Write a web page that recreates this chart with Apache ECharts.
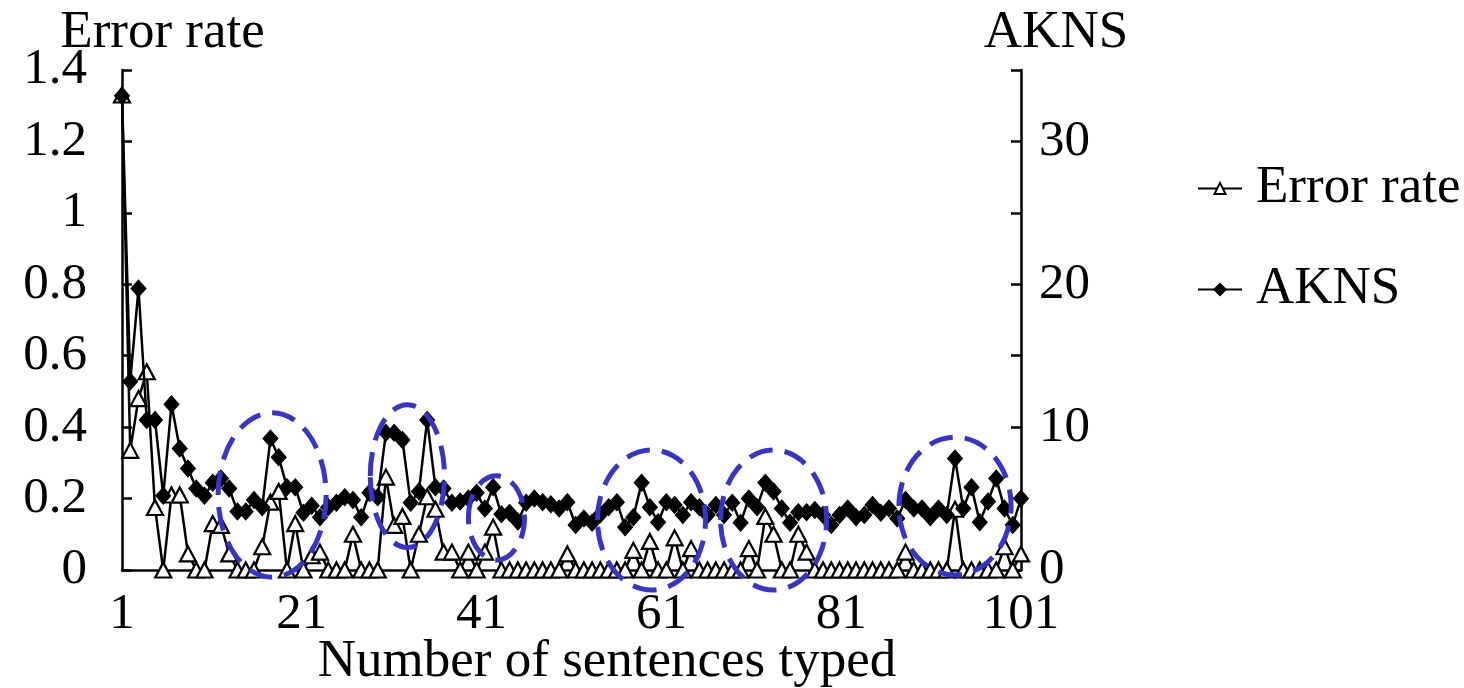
<!DOCTYPE html>
<html>
<head>
<meta charset="utf-8">
<script src="https://cdn.jsdelivr.net/npm/echarts@6/dist/echarts.min.js"></script>
<style>
  html, body { margin: 0; padding: 0; background: #fff; }
  #chart { width: 1464px; height: 688px; }
</style>
</head>
<body>
<div id="chart"></div>
<script>
// sentence index (one point per typed sentence)
const sentences = Array.from({ length: 110 }, (_, i) => i + 1)
const xTickLabels = [1, 21, 41, 61, 81, 101]

const errorRate = [
  1.33, 0.335, 0.48, 0.555, 0.175, 0, 0.21, 0.21, 0.045, 0,
  0, 0.13, 0.125, 0.045, 0, 0, 0, 0.065, 0.19, 0.22,
  0, 0.13, 0, 0.04, 0.05, 0, 0, 0, 0.1, 0,
  0, 0, 0.26, 0.125, 0.15, 0, 0.1, 0.205, 0.17, 0.05,
  0.05, 0, 0.05, 0, 0.05, 0.12, 0, 0, 0, 0,
  0, 0, 0, 0, 0.045, 0, 0, 0, 0, 0,
  0, 0, 0.055, 0, 0.08, 0, 0, 0.09, 0, 0.06,
  0, 0, 0, 0, 0, 0, 0.06, 0, 0.15, 0.1,
  0, 0, 0.1, 0.05, 0, 0, 0, 0, 0, 0,
  0, 0, 0, 0, 0, 0.05, 0, 0, 0, 0,
  0, 0.17, 0, 0, 0, 0, 0, 0.065, 0, 0.045
]

const akns = [
  33.2, 13.2, 19.7, 10.5, 10.5, 5.2, 11.6, 8.5, 7.1, 5.7,
  5.2, 6.1, 6.4, 5.7, 4.1, 4.1, 4.9, 4.4, 9.2, 7.9,
  5.8, 5.8, 4.0, 4.5, 3.7, 4.4, 4.7, 5.1, 4.9, 3.7,
  5.4, 5.1, 9.6, 9.6, 9.1, 4.7, 5.5, 10.5, 5.8, 5.7,
  4.7, 4.8, 5.0, 5.4, 4.3, 5.8, 3.9, 4.0, 3.4, 4.7,
  5.0, 4.75, 4.6, 4.3, 4.75, 3.15, 3.6, 3.3, 3.9, 4.4,
  4.75, 3.0, 3.7, 6.1, 4.4, 3.35, 4.75, 4.55, 3.85, 4.75,
  4.4, 3.85, 4.55, 3.85, 4.7, 3.3, 5.0, 4.4, 6.1, 5.5,
  4.3, 3.3, 4.05, 4.05, 4.2, 3.85, 3.15, 3.85, 4.3, 3.7,
  3.85, 4.55, 4.0, 4.3, 3.6, 4.9, 4.3, 4.3, 3.7, 4.3,
  3.85, 7.8, 4.3, 5.8, 3.35, 4.8, 6.4, 4.3, 3.15, 5.0
]

// dashed rings drawn around the spikes (sentence, error rate, half width, half height)
const highlights = [
  [19.2, 0.21, 6.55, 0.23],
  [35.6, 0.263, 4.5, 0.2],
  [46.4, 0.146, 3.4, 0.118],
  [65.2, 0.14, 6.55, 0.196],
  [80.0, 0.14, 6.43, 0.196],
  [102.0, 0.179, 6.8, 0.193]
]

const font = "Liberation Serif"
const black = "#000"
const tickSize = 51
const nameSize = 53

const chart = echarts.init(document.getElementById("chart"))

const option = {
  animation: false,
  textStyle: { fontFamily: font, color: black },
  grid: { left: 122, right: 443, top: 70, bottom: 118, outerBoundsMode: "none", containLabel: false },
  legend: {
    orient: "vertical",
    left: 1192,
    top: 157,
    itemWidth: 44,
    itemHeight: 14,
    itemGap: 48,
    textStyle: { fontFamily: font, fontSize: nameSize, color: black, padding: [0, 0, 0, 9] },
    data: ["Error rate", "AKNS"]
  },
  xAxis: [
    {
      type: "value",
      min: 1,
      max: sentences[sentences.length - 1],
      axisLine: { show: true, lineStyle: { color: black, width: 2.5 } },
      axisTick: { show: false },
      axisLabel: { show: false },
      splitLine: { show: false },
      name: "Number of sentences typed",
      nameLocation: "middle",
      nameGap: 66,
      nameMoveOverlap: false,
      nameTextStyle: { fontFamily: font, fontSize: nameSize, color: black, padding: [0, 0, 0, 71] }
    },
    {
      type: "value",
      position: "bottom",
      min: xTickLabels[0],
      max: xTickLabels[xTickLabels.length - 1],
      interval: 20,
      axisLine: { show: false },
      axisTick: { show: false },
      splitLine: { show: false },
      axisLabel: { fontFamily: font, fontSize: tickSize, color: black, margin: 19 }
    }
  ],
  yAxis: [
    {
      type: "value",
      min: 0,
      max: 1.4,
      interval: 0.2,
      name: "Error rate",
      nameLocation: "end",
      nameGap: 10,
      nameMoveOverlap: false,
      nameTextStyle: { fontFamily: font, fontSize: nameSize, color: black, padding: [0, 0, 0, 81] },
      axisLine: { show: true, lineStyle: { color: black, width: 2.5 } },
      axisTick: { show: true, inside: true, length: 10, lineStyle: { color: black, width: 2.5 } },
      axisLabel: { fontFamily: font, fontSize: tickSize, color: black, margin: 35 },
      splitLine: { show: false }
    },
    {
      type: "value",
      position: "right",
      min: 0,
      max: 35,
      interval: 5,
      name: "AKNS",
      nameLocation: "end",
      nameGap: 10,
      nameMoveOverlap: false,
      nameTextStyle: { fontFamily: font, fontSize: nameSize, color: black, padding: [0, 0, 0, 70] },
      axisLine: { show: true, lineStyle: { color: black, width: 2.5 } },
      axisTick: { show: true, inside: true, length: 10, lineStyle: { color: black, width: 2.5 } },
      axisLabel: {
        fontFamily: font, fontSize: tickSize, color: black, margin: 18,
        formatter: v => (v % 10 === 0 ? String(v) : "")
      },
      splitLine: { show: false }
    }
  ],
  series: [
    {
      name: "Error rate",
      type: "line",
      xAxisIndex: 0,
      yAxisIndex: 0,
      data: errorRate.map((v, i) => [sentences[i], v]),
      symbol: "triangle",
      symbolSize: [16, 15],
      showAllSymbol: true,
      lineStyle: { color: black, width: 2.5 },
      itemStyle: { color: "#fff", borderColor: black, borderWidth: 2.2 },
      z: 2
    },
    {
      name: "AKNS",
      type: "line",
      xAxisIndex: 0,
      yAxisIndex: 1,
      data: akns.map((v, i) => [sentences[i], v]),
      symbol: "diamond",
      symbolSize: [15, 17],
      showAllSymbol: true,
      lineStyle: { color: black, width: 2.5 },
      itemStyle: { color: black, borderColor: black, borderWidth: 1 },
      z: 3
    }
  ]
}

chart.setOption(option)

// rings placed through the chart's own scales
const rings = highlights.map(h => {
  const c = chart.convertToPixel({ seriesIndex: 0 }, [h[0], h[1]])
  const e = chart.convertToPixel({ seriesIndex: 0 }, [h[0] + h[2], h[1] + h[3]])
  return {
    type: "ellipse",
    silent: true,
    z: 100,
    shape: { cx: c[0], cy: c[1], rx: e[0] - c[0], ry: c[1] - e[1] },
    style: { fill: null, stroke: "#3535c9", lineWidth: 5, lineDash: [24, 12] }
  }
})
chart.setOption({ graphic: rings })

window.onresize = () => {
  chart.resize()
}
</script>
</body>
</html>
